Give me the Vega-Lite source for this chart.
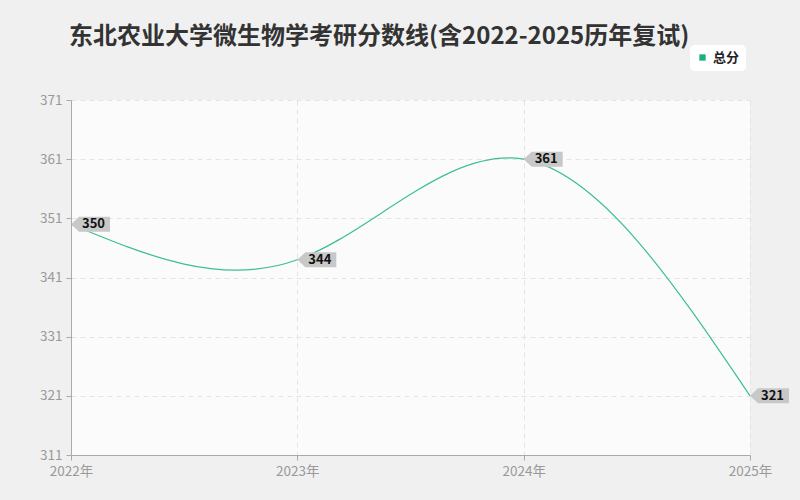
{
  "$schema": "https://vega.github.io/schema/vega-lite/v6.json",
  "autosize": "none",
  "width": 679,
  "height": 355,
  "padding": {"left": 71, "top": 100, "right": 50, "bottom": 45},
  "background": "#f0f0f0",
  "title": {
    "text": "东北农业大学微生物学考研分数线(含2022-2025历年复试)",
    "anchor": "start",
    "frame": "group",
    "dx": -2,
    "offset": -4,
    "font": "Noto Sans CJK SC",
    "fontSize": 24,
    "fontWeight": "bold",
    "color": "#333333"
  },
  "data": {
    "values": [
      {"year": "2022年", "score": 350, "series": "总分"},
      {"year": "2023年", "score": 344, "series": "总分"},
      {"year": "2024年", "score": 361, "series": "总分"},
      {"year": "2025年", "score": 321, "series": "总分"}
    ]
  },
  "encoding": {
    "x": {
      "field": "year",
      "type": "ordinal",
      "sort": null,
      "scale": {"type": "point", "padding": 0},
      "axis": {
        "title": null,
        "labelAngle": 0,
        "labelFont": "Noto Sans CJK SC",
        "labelFontSize": 13.5,
        "labelColor": "#999999",
        "labelPadding": 4,
        "domainColor": "#aaaaaa",
        "tickColor": "#aaaaaa",
        "tickSize": 5,
        "grid": true,
        "gridColor": "#e4e4e4",
        "gridDash": [5, 4]
      }
    },
    "y": {
      "field": "score",
      "type": "quantitative",
      "scale": {"domain": [311, 371], "nice": false, "zero": false},
      "axis": {
        "title": null,
        "values": [311, 321, 331, 341, 351, 361, 371],
        "labelFont": "Noto Sans CJK SC",
        "labelFontSize": 13.5,
        "labelColor": "#999999",
        "labelPadding": 4,
        "domainColor": "#aaaaaa",
        "tickColor": "#aaaaaa",
        "tickSize": 5,
        "grid": true,
        "gridColor": "#e4e4e4",
        "gridDash": [5, 4]
      }
    }
  },
  "layer": [
    {
      "mark": {"type": "line", "interpolate": "natural", "strokeWidth": 1.2},
      "encoding": {
        "color": {
          "field": "series",
          "type": "nominal",
          "scale": {"range": ["#3cbf94"]},
          "legend": {
            "title": null,
            "orient": "none",
            "legendX": 619,
            "legendY": -55,
            "fillColor": "#ffffff",
            "cornerRadius": 5,
            "padding": 6,
            "symbolType": "square",
            "symbolSize": 40,
            "symbolFillColor": "#1aaf7e",
            "symbolStrokeWidth": 0,
            "labelFont": "Noto Sans CJK SC",
            "labelFontSize": 13,
            "labelFontWeight": "bold",
            "labelColor": "#222222"
          }
        }
      }
    },
    {
      "mark": {
        "type": "point",
        "shape": "M0,0L0.4,-0.375L1.95,-0.375L1.95,0.375L0.4,0.375Z",
        "size": 1600,
        "filled": true,
        "color": "#c8c8c8",
        "opacity": 1
      }
    },
    {
      "mark": {
        "type": "text",
        "align": "left",
        "baseline": "middle",
        "dx": 11,
        "dy": 0,
        "font": "Noto Sans CJK SC",
        "fontSize": 13,
        "fontWeight": "bold",
        "color": "#111111"
      },
      "encoding": {"text": {"field": "score", "type": "quantitative"}}
    }
  ],
  "config": {
    "view": {"fill": "#fbfbfb", "stroke": null}
  }
}
